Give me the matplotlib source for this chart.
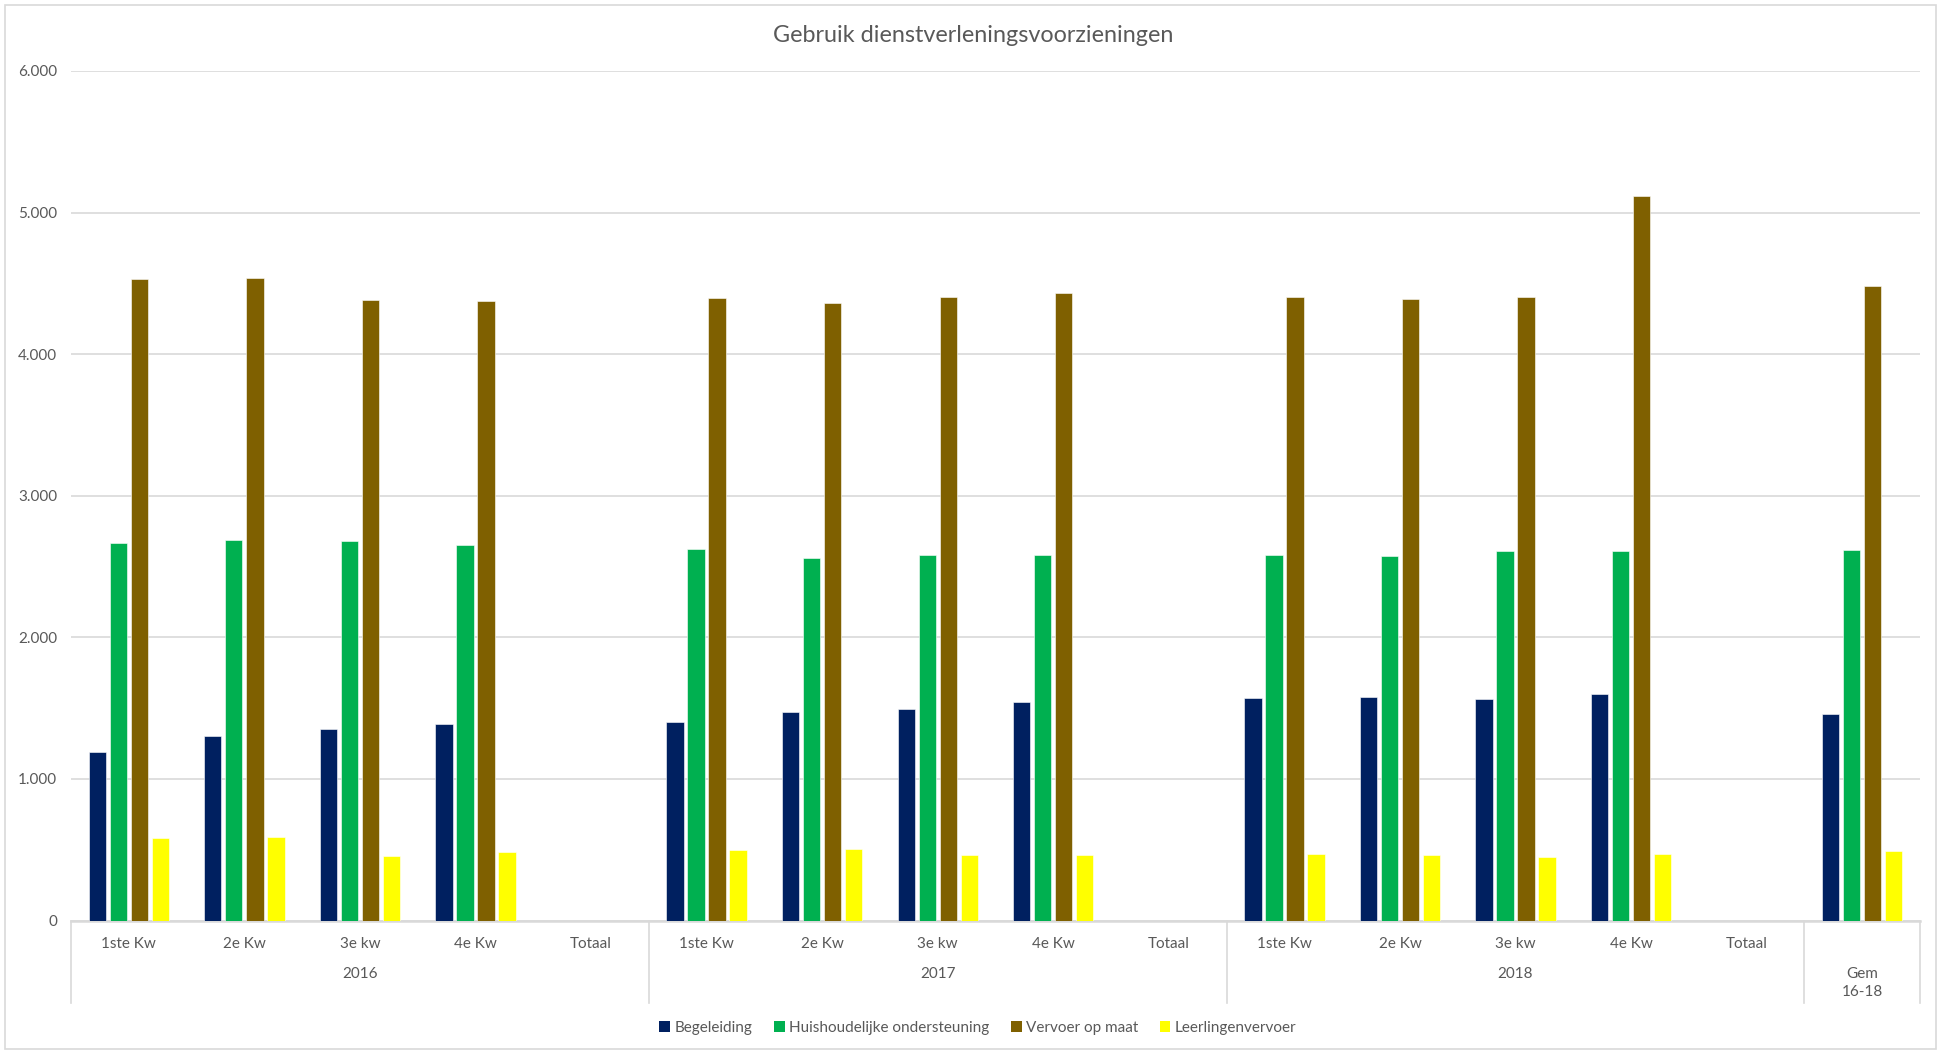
import matplotlib.pyplot as plt
import matplotlib.transforms as mtransforms
from matplotlib.patches import Rectangle, Patch
import numpy as np

# categories (Totaal columns are empty in the source chart)
quarters = ["1ste Kw", "2e Kw", "3e kw", "4e Kw", "Totaal"]
years = ["2016", "2017", "2018"]
tick_labels = quarters * 3 + [""]
group_labels = ["2016", "2017", "2018", "Gem\n16-18"]

nan = np.nan
begeleiding = [1188, 1303, 1356, 1391, nan,
               1405, 1471, 1497, 1544, nan,
               1572, 1582, 1563, 1601, nan,
               1459]
huishoudelijk = [2664, 2687, 2680, 2650, nan,
                 2621, 2560, 2581, 2583, nan,
                 2581, 2572, 2608, 2610, nan,
                 2617]
vervoer = [4528, 4540, 4385, 4378, nan,
           4394, 4364, 4401, 4429, nan,
           4406, 4390, 4401, 5120, nan,
           4479]
leerlingen = [582, 587, 457, 483, nan,
              495, 504, 460, 460, nan,
              469, 465, 449, 469, nan,
              490]

series_names = ["Begeleiding", "Huishoudelijke ondersteuning", "Vervoer op maat", "Leerlingenvervoer"]
colors = ["#002060", "#00B050", "#7F6000", "#FFFF00"]

plt.rcParams["font.family"] = ["Lato", "DejaVu Sans"]
text_color = "#595959"
grid_color = "#D9D9D9"

W, H = 1939, 1052
fig = plt.figure(figsize=(W / 100, H / 100), dpi=100)
left, right, top, bottom = 71, 1920, 71, 920.5
ax = fig.add_axes([left / W, 1 - bottom / H, (right - left) / W, (bottom - top) / H])

x = np.arange(len(tick_labels))
bw = 0.15
step = 0.182
all_series = [begeleiding, huishoudelijk, vervoer, leerlingen]
for i, (vals, c) in enumerate(zip(all_series, colors)):
    ax.bar(x + (i - 1.5) * step, np.array(vals, dtype=float), width=bw, color=c,
           edgecolor="white", linewidth=0.4, zorder=3)

ax.set_xlim(-0.5, len(tick_labels) - 0.5)
ax.set_ylim(0, 6000)
ax.set_yticks(np.arange(0, 6001, 1000))
ax.set_yticklabels([f"{v:,}".replace(",", ".") for v in range(0, 6001, 1000)])
ax.grid(axis="y", color=grid_color, linewidth=1.2, zorder=0)
ax.set_axisbelow(True)
for s in ["left", "right", "top"]:
    ax.spines[s].set_visible(False)
ax.spines["bottom"].set_color(grid_color)
ax.spines["bottom"].set_linewidth(1.8)
ax.tick_params(axis="y", length=0, pad=10, labelsize=11, labelcolor=text_color)
ax.set_xticks(x)
ax.set_xticklabels(tick_labels)
ax.tick_params(axis="x", length=0, pad=12, labelsize=11, labelcolor=text_color)

trans = mtransforms.blended_transform_factory(ax.transData, ax.transAxes)
ax_h = bottom - top
group_centers = [2, 7, 12, 15]
for gx, gl in zip(group_centers, group_labels):
    if "\n" in gl:
        ax.text(gx, (bottom - 983) / ax_h, gl, transform=trans, ha="center", va="center",
                fontsize=11, color=text_color, linespacing=1.4)
    else:
        ax.text(gx, (bottom - 974) / ax_h, gl, transform=trans, ha="center", va="center",
                fontsize=11, color=text_color)

sep_bottom = (bottom - 1003) / ax_h
for sx in [-0.5, 4.5, 9.5, 14.5, 15.5]:
    ax.plot([sx, sx], [0, sep_bottom], transform=trans, color=grid_color, linewidth=1.2,
            clip_on=False)

fig.text(973 / W, 1 - 35 / H, "Gebruik dienstverleningsvoorzieningen", ha="center", va="center",
         fontsize=16.8, color=text_color)

handles = [Patch(facecolor=c, edgecolor="none") for c in colors]
fig.legend(handles, series_names, loc="center", bbox_to_anchor=(978 / W, 1 - 1028 / H),
           ncol=4, frameon=False, fontsize=11, labelcolor=text_color,
           handlelength=0.7, handleheight=0.7, handletextpad=0.3, columnspacing=1.4)

fig.patches.append(Rectangle((5 / W, 3 / H), (W - 8) / W, (H - 8) / H, transform=fig.transFigure,
                             fill=False, edgecolor=grid_color, linewidth=1.2))

fig.savefig("out.png", dpi=100, facecolor="white")
